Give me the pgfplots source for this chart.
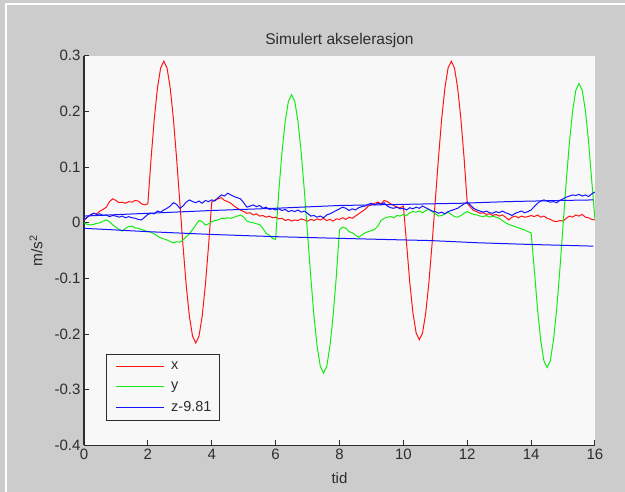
\documentclass[border=0pt]{standalone}
\usepackage{fontspec}
\setmainfont{Liberation Sans}
\usepackage{pgfplots}
\pgfplotsset{compat=1.18}
\definecolor{figgray}{RGB}{204,204,204}
\definecolor{axbg}{RGB}{248,248,248}
\definecolor{axcol}{RGB}{45,45,45}
\definecolor{xred}{RGB}{255,20,20}
\definecolor{ygreen}{RGB}{20,235,20}
\definecolor{zblue}{RGB}{20,20,255}
\newcommand{\lbl}{\fontsize{15}{17}\selectfont}
\begin{document}
\begin{tikzpicture}
\fill[figgray, use as bounding box] (-84pt,-46.5pt) rectangle (541pt,445.5pt);
\draw[white, line width=1.2pt] (-78pt,-46.5pt) -- (-78pt,441.5pt) -- (541pt,441.5pt);
\begin{axis}[
  at={(0pt,0pt)}, anchor=south west,
  scale only axis, width=511pt, height=389.8pt,
  xmin=0, xmax=16, ymin=-0.4, ymax=0.3,
  axis x line=bottom, axis y line=left,
  axis line style={-, axcol, line width=1.1pt},
  axis background/.style={fill=axbg},
  xtick={0,2,4,6,8,10,12,14,16},
  xticklabels={0,2,4,6,8,10,12,14,16},
  ytick={-0.4,-0.3,-0.2,-0.1,0,0.1,0.2,0.3},
  yticklabels={-0.4,-0.3,-0.2,-0.1,0,0.1,0.2,0.3},
  tick style={axcol, line width=1pt}, major tick length=5pt, tick align=inside,
  ticklabel style={font=\lbl, text=axcol},
  every axis title/.style={at={(axis description cs:0.5,1.04)}, anchor=center, font=\fontsize{15.5}{18}\selectfont, text=axcol},
  every axis x label/.style={at={(axis description cs:0.5,-0.083)}, anchor=center, font=\lbl, text=axcol},
  every axis y label/.style={at={(axis description cs:-0.094,0.5)}, rotate=90, anchor=center, font=\fontsize{15.5}{18}\selectfont, text=axcol},
  title={Simulert akselerasjon},
  xlabel={tid},
  ylabel={m/s\textsuperscript{2}},
  legend image code/.code={\path (-3pt,0pt) (53pt,0pt); \draw[#1, line width=1pt] (0pt,0pt) -- (48pt,0pt);},
  legend cell align=left,
  legend style={at={(0.0425,0.0629)}, anchor=south west, draw=axcol, line width=1pt,
    fill=axbg, font=\fontsize{14.5}{17}\selectfont, text=axcol, inner xsep=6pt, inner ysep=5pt, row sep=7pt},
  every axis plot/.append style={line width=1pt},
]
% x
\addplot[xred] coordinates {
(0,0.004)(0.1,0.010)(0.2,0.014)(0.3,0.017)(0.4,0.016)(0.5,0.021)(0.6,0.024)(0.7,0.028)(0.8,0.038)(0.9,0.043)
(1.0,0.040)(1.1,0.036)(1.2,0.037)(1.3,0.035)(1.4,0.038)(1.5,0.037)(1.6,0.040)(1.7,0.039)(1.8,0.034)(1.9,0.032)
(2.0,0.034)(2.1,0.115)(2.2,0.186)(2.3,0.242)(2.4,0.278)(2.5,0.290)(2.6,0.278)(2.7,0.242)(2.8,0.186)(2.9,0.115)
(3.0,0.037)(3.1,-0.041)(3.2,-0.112)(3.3,-0.168)(3.4,-0.204)(3.5,-0.216)(3.6,-0.204)(3.7,-0.168)(3.8,-0.112)(3.9,-0.041)
(4.0,0.037)(4.1,0.041)(4.2,0.043)(4.3,0.045)(4.4,0.040)(4.5,0.038)(4.6,0.035)(4.7,0.030)(4.8,0.026)(4.9,0.023)
(5.0,0.020)(5.1,0.017)(5.2,0.018)(5.3,0.014)(5.4,0.016)(5.5,0.012)(5.6,0.013)(5.7,0.010)(5.8,0.012)(5.9,0.009)
(6.0,0.010)(6.1,0.007)(6.2,0.008)(6.3,0.004)(6.4,0.006)(6.5,0.003)(6.6,0.005)(6.7,0.004)(6.8,0.007)(6.9,0.005)
(7.0,0.003)(7.1,0.006)(7.2,0.004)(7.3,0.007)(7.4,0.005)(7.5,0.008)(7.6,0.004)(7.7,0.006)(7.8,0.003)(7.9,0.007)
(8.0,0.006)(8.1,0.009)(8.2,0.006)(8.3,0.010)(8.4,0.008)(8.5,0.012)(8.6,0.016)(8.7,0.020)(8.8,0.024)(8.9,0.030)
(9.0,0.032)(9.1,0.035)(9.2,0.037)(9.3,0.034)(9.4,0.040)(9.5,0.038)(9.6,0.034)(9.7,0.031)(9.8,0.028)(9.9,0.027)
(10.0,0.030)(10.1,-0.037)(10.2,-0.107)(10.3,-0.162)(10.4,-0.198)(10.5,-0.210)(10.6,-0.198)(10.7,-0.162)(10.8,-0.107)(10.9,-0.037)
(11.0,0.040)(11.1,0.117)(11.2,0.187)(11.3,0.242)(11.4,0.278)(11.5,0.290)(11.6,0.278)(11.7,0.242)(11.8,0.187)(11.9,0.117)
(12.0,0.035)(12.1,0.028)(12.2,0.022)(12.3,0.020)(12.4,0.017)(12.5,0.018)(12.6,0.015)(12.7,0.016)(12.8,0.013)(12.9,0.015)
(13.0,0.012)(13.1,0.014)(13.2,0.010)(13.3,0.005)(13.4,0.010)(13.5,0.012)(13.6,0.009)(13.7,0.012)(13.8,0.010)(13.9,0.011)
(14.0,0.013)(14.1,0.011)(14.2,0.014)(14.3,0.010)(14.4,0.012)(14.5,0.008)(14.6,0.006)(14.7,0.003)(14.8,0.002)(14.9,0.004)
(15.0,0.003)(15.1,0.008)(15.2,0.012)(15.3,0.010)(15.4,0.014)(15.5,0.012)(15.6,0.015)(15.7,0.010)(15.8,0.009)(15.9,0.006)
(16.0,0.005)};
\addlegendentry{x}
% y
\addplot[ygreen] coordinates {
(0,0.000)(0.1,-0.003)(0.2,-0.004)(0.3,-0.003)(0.4,-0.001)(0.5,0.000)(0.6,0.003)(0.7,0.005)(0.8,0.002)(0.9,-0.004)
(1.0,-0.008)(1.1,-0.012)(1.2,-0.015)(1.3,-0.010)(1.4,-0.007)(1.5,-0.006)(1.6,-0.009)(1.7,-0.010)(1.8,-0.012)(1.9,-0.014)
(2.0,-0.016)(2.1,-0.017)(2.2,-0.020)(2.3,-0.024)(2.4,-0.027)(2.5,-0.029)(2.6,-0.031)(2.7,-0.034)(2.8,-0.036)(2.9,-0.034)
(3.0,-0.035)(3.1,-0.031)(3.2,-0.025)(3.3,-0.020)(3.4,-0.012)(3.5,-0.004)(3.6,0.004)(3.7,0.002)(3.8,-0.004)(3.9,-0.002)
(4.0,0.002)(4.1,0.004)(4.2,0.005)(4.3,0.008)(4.4,0.007)(4.5,0.009)(4.6,0.008)(4.7,0.010)(4.8,0.012)(4.9,0.014)
(5.0,0.010)(5.1,0.003)(5.2,0.001)(5.3,0.000)(5.4,-0.002)(5.5,-0.003)(5.6,-0.010)(5.7,-0.019)(5.8,-0.022)(5.9,-0.028)
(6.0,-0.030)(6.1,0.057)(6.2,0.127)(6.3,0.182)(6.4,0.218)(6.5,0.230)(6.6,0.218)(6.7,0.182)(6.8,0.127)(6.9,0.057)
(7.0,-0.020)(7.1,-0.097)(7.2,-0.167)(7.3,-0.222)(7.4,-0.258)(7.5,-0.270)(7.6,-0.258)(7.7,-0.222)(7.8,-0.167)(7.9,-0.097)
(8.0,-0.012)(8.1,-0.008)(8.2,-0.010)(8.3,-0.016)(8.4,-0.018)(8.5,-0.022)(8.6,-0.026)(8.7,-0.022)(8.8,-0.018)(8.9,-0.016)
(9.0,-0.014)(9.1,-0.012)(9.2,-0.006)(9.3,0.004)(9.4,0.008)(9.5,0.010)(9.6,0.011)(9.7,0.009)(9.8,0.013)(9.9,0.012)
(10.0,0.015)(10.1,0.013)(10.2,0.018)(10.3,0.020)(10.4,0.019)(10.5,0.021)(10.6,0.018)(10.7,0.022)(10.8,0.024)(10.9,0.020)
(11.0,0.016)(11.1,0.012)(11.2,0.013)(11.3,0.016)(11.4,0.019)(11.5,0.015)(11.6,0.011)(11.7,0.010)(11.8,0.013)(11.9,0.017)
(12.0,0.020)(12.1,0.017)(12.2,0.015)(12.3,0.014)(12.4,0.012)(12.5,0.011)(12.6,0.013)(12.7,0.010)(12.8,0.012)(12.9,0.010)
(13.0,0.008)(13.1,0.004)(13.2,0.000)(13.3,-0.003)(13.4,-0.005)(13.5,-0.007)(13.6,-0.009)(13.7,-0.011)(13.8,-0.013)(13.9,-0.016)
(14.0,-0.018)(14.1,-0.084)(14.2,-0.155)(14.3,-0.211)(14.4,-0.248)(14.5,-0.260)(14.6,-0.248)(14.7,-0.211)(14.8,-0.155)(14.9,-0.084)
(15.0,-0.005)(15.1,0.074)(15.2,0.145)(15.3,0.201)(15.4,0.238)(15.5,0.250)(15.6,0.238)(15.7,0.201)(15.8,0.145)(15.9,0.074)
(16.0,0.005)};
\addlegendentry{y}
% z - 9.81
\addplot[zblue] coordinates {
(0,0.005)(0.1,0.010)(0.2,0.014)(0.3,0.017)(0.4,0.015)(0.5,0.016)(0.6,0.013)(0.7,0.014)(0.8,0.011)(0.9,0.013)
(1.0,0.012)(1.1,0.010)(1.2,0.012)(1.3,0.009)(1.4,0.011)(1.5,0.009)(1.6,0.008)(1.7,0.006)(1.8,0.005)(1.9,0.010)
(2.0,0.015)(2.1,0.017)(2.2,0.016)(2.3,0.021)(2.4,0.019)(2.5,0.023)(2.6,0.026)(2.7,0.030)(2.8,0.036)(2.9,0.033)
(3.0,0.026)(3.1,0.030)(3.2,0.037)(3.3,0.041)(3.4,0.038)(3.5,0.036)(3.6,0.039)(3.7,0.035)(3.8,0.040)(3.9,0.038)
(4.0,0.041)(4.1,0.039)(4.2,0.045)(4.3,0.050)(4.4,0.048)(4.5,0.053)(4.6,0.050)(4.7,0.047)(4.8,0.045)(4.9,0.043)
(5.0,0.036)(5.1,0.028)(5.2,0.030)(5.3,0.032)(5.4,0.029)(5.5,0.031)(5.6,0.026)(5.7,0.028)(5.8,0.024)(5.9,0.025)
(6.0,0.023)(6.1,0.025)(6.2,0.022)(6.3,0.024)(6.4,0.020)(6.5,0.022)(6.6,0.020)(6.7,0.023)(6.8,0.019)(6.9,0.021)
(7.0,0.017)(7.1,0.012)(7.2,0.013)(7.3,0.010)(7.4,0.012)(7.5,0.009)(7.6,0.014)(7.7,0.016)(7.8,0.019)(7.9,0.022)
(8.0,0.025)(8.1,0.028)(8.2,0.026)(8.3,0.022)(8.4,0.025)(8.5,0.023)(8.6,0.027)(8.7,0.029)(8.8,0.030)(8.9,0.033)
(9.0,0.035)(9.1,0.032)(9.2,0.035)(9.3,0.033)(9.4,0.036)(9.5,0.030)(9.6,0.027)(9.7,0.026)(9.8,0.028)(9.9,0.025)
(10.0,0.026)(10.1,0.023)(10.2,0.027)(10.3,0.025)(10.4,0.028)(10.5,0.026)(10.6,0.030)(10.7,0.027)(10.8,0.024)(10.9,0.021)
(11.0,0.020)(11.1,0.017)(11.2,0.019)(11.3,0.016)(11.4,0.020)(11.5,0.022)(11.6,0.024)(11.7,0.026)(11.8,0.030)(11.9,0.034)
(12.0,0.037)(12.1,0.032)(12.2,0.026)(12.3,0.023)(12.4,0.021)(12.5,0.019)(12.6,0.021)(12.7,0.018)(12.8,0.017)(12.9,0.020)
(13.0,0.018)(13.1,0.021)(13.2,0.018)(13.3,0.016)(13.4,0.013)(13.5,0.017)(13.6,0.019)(13.7,0.021)(13.8,0.018)(13.9,0.020)
(14.0,0.023)(14.1,0.029)(14.2,0.035)(14.3,0.039)(14.4,0.041)(14.5,0.039)(14.6,0.037)(14.7,0.038)(14.8,0.036)(14.9,0.040)
(15.0,0.043)(15.1,0.046)(15.2,0.048)(15.3,0.050)(15.4,0.049)(15.5,0.051)(15.6,0.048)(15.7,0.050)(15.8,0.047)(15.9,0.052)
(16.0,0.055)};
\addlegendentry{z-9.81}
\addplot[zblue, forget plot] coordinates {
(0,0.012)(2,0.017)(4,0.022)(6,0.026)(8,0.031)(10,0.033)(11.8,0.035)(13.3,0.038)(14.9,0.040)(15.95,0.041)};
\addplot[zblue, forget plot] coordinates {
(0,-0.010)(2,-0.016)(4,-0.021)(6,-0.025)(8,-0.028)(9.4,-0.030)(10.85,-0.032)(12.35,-0.036)(14,-0.039)(15.95,-0.042)};
\end{axis}
\end{tikzpicture}
\end{document}
